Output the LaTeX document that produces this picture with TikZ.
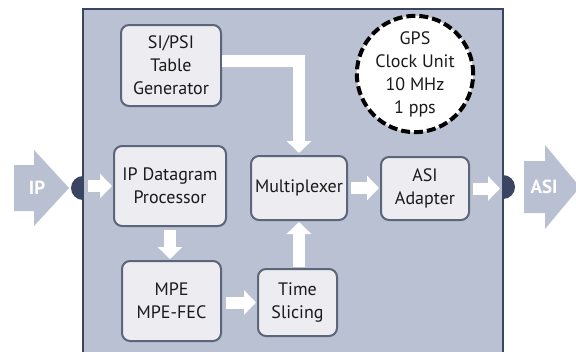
\documentclass[tikz,border=0pt]{standalone}
\usepackage{fontspec}
\setmainfont{PT Sans}
\usetikzlibrary{arrows.meta}
\definecolor{panel}{HTML}{BAC1D3}
\definecolor{paneledge}{HTML}{3A4562}
\definecolor{boxfill}{HTML}{ECECF1}
\definecolor{boxedge}{HTML}{5C667B}
\definecolor{bigarrow}{HTML}{B9C0D1}
\definecolor{txt}{HTML}{1A1A1A}
\begin{document}
\begin{tikzpicture}[x=1pt,y=-1pt,
  blk/.style={draw=boxedge, line width=2pt, fill=boxfill, rounded corners=8pt,
    align=center, text=txt, inner sep=0pt, font=\fontsize{18}{23}\selectfont},
  flow/.style={draw=white, line width=12pt, -{Triangle[width=24pt,length=12pt]}},
  biglabel/.style={text=white, font=\bfseries\fontsize{19}{23}\selectfont}]
\useasboundingbox (0,0) rectangle (576,351);
% port dots
\fill[paneledge] (83,188) circle (12pt);
\fill[paneledge] (503,187) circle (12pt);
% panel
\fill[panel] (83,9) rectangle (503,352);
\draw[paneledge, line width=2.5pt] (83,352) -- (83,9) -- (503,9) -- (503,352);
% big grey arrows
\fill[bigarrow] (14,165) -- (34,165) -- (34,150) -- (69,188) -- (34,226) -- (34,211) -- (14,211) -- cycle;
\node[biglabel] (iplbl) at (37,188) {IP};
\fill[bigarrow] (524,161) -- (545,161) -- (545,145) -- (580,187) -- (545,229) -- (545,213) -- (524,213) -- cycle;
\node[biglabel] (asilbl) at (544,187) {ASI};
% blocks
\node[blk, minimum width=100pt, minimum height=81pt] (sipsi) at (171,65.5) {SI/PSI\\Table\\Generator};
\node[blk, minimum width=112pt, minimum height=80pt] (ipdp) at (170,186) {IP Datagram\\Processor};
\node[blk, minimum width=96pt, minimum height=64pt] (mux) at (299,188) {Multiplexer};
\node[blk, minimum width=99pt, minimum height=80pt] (mpe) at (171.5,301) {MPE\\MPE-FEC};
\node[blk, minimum width=79pt, minimum height=67pt] (ts) at (297.5,302.5) {Time\\Slicing};
\node[blk, minimum width=88pt, minimum height=63pt] (asi) at (425,188.5) {ASI\\Adapter};
\node[circle, draw=black, fill=white, line width=4pt, dash pattern=on 9pt off 4pt,
  minimum size=100pt, inner sep=0pt, align=center, text=txt,
  font=\fontsize{18}{23}\selectfont] (gps) at (415,74) {GPS\\Clock Unit\\10 MHz\\1 pps};
% flows
\coordinate (inp) at (88,186);
\coordinate (outp) at (500,188);
\draw[flow, shorten >=1pt] (inp) -- (inp -| ipdp.west);
\draw[flow, shorten <=3pt, shorten >=1pt] (ipdp.south) -- (ipdp.south |- mpe.north);
\draw[flow, shorten <=4pt, shorten >=1pt] (mpe.east |- ts.west) -- (ts.west);
\draw[flow, shorten <=1pt, shorten >=1pt] (ts.north -| mux.south) -- (mux.south);
\draw[flow, shorten >=2pt] ([yshift=5pt]sipsi.east) -| (mux.north);
\draw[flow, shorten <=3pt, shorten >=1pt] (mux.east) -- (mux.east -| asi.west);
\draw[flow, shorten <=3pt] (asi.east) -- (asi.east -| outp);
\end{tikzpicture}
\end{document}
